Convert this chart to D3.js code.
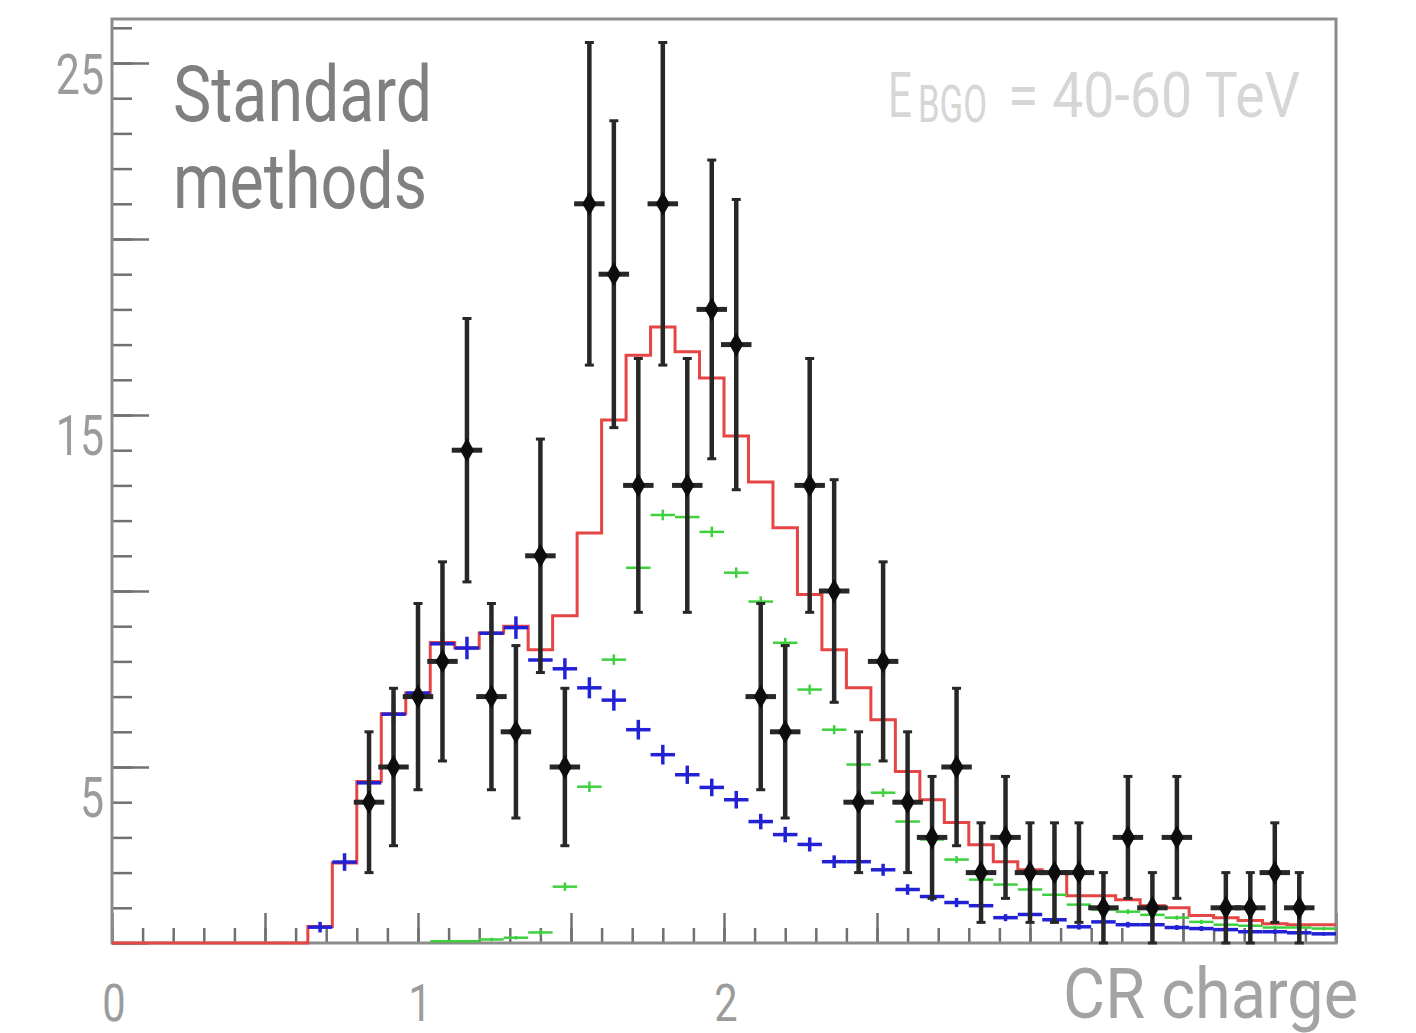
<!DOCTYPE html>
<html>
<head>
<meta charset="utf-8">
<script src="https://cdn.jsdelivr.net/npm/d3@7"></script>
<style>
  body { margin: 0; background: #fff; }
  text { font-family: Roboto, "Noto Sans", sans-serif; }
</style>
</head>
<body>
<div id="chart"></div>
<script>
// histogram binning of CR charge: 50 bins of 0.08 from 0 to 4
var xMin = 0, xMax = 4, binWidth = 0.08, nBins = 50;

// observed counts per bin (black points, Poisson errors)
var dataCounts = [
  0, 0, 0, 0, 0, 0, 0, 0, 0, 0,
  4, 5, 7, 8, 14, 7, 6, 11, 5, 21,
  19, 13, 21, 13, 18, 17, 7, 6, 13, 10,
  4, 8, 4, 3, 5, 2, 3, 2, 2, 2,
  1, 3, 1, 3, 0, 1, 1, 2, 1, 0
];

// total fit (red histogram)
var fitTotal = [
  0, 0, 0, 0, 0, 0, 0, 0, 0.47, 2.27,
  4.59, 6.51, 7.1, 8.54, 8.38, 8.81, 9.0, 8.33, 9.3, 11.65,
  14.86, 16.7, 17.5, 16.8, 16.05, 14.4, 13.1, 11.8, 9.9, 8.33,
  7.25, 6.34, 4.87, 4.07, 3.42, 2.79, 2.31, 2.08, 2.0, 1.34,
  1.34, 1.23, 1.06, 1.0, 0.78, 0.72, 0.64, 0.55, 0.52, 0.52
];

// template 1 (blue crosses)
var templateBlue = [
  null, null, null, null, null, null, null, null, 0.45, 2.3,
  4.55, 6.5, 7.1, 8.5, 8.38, 8.8, 8.96, 8.04, 7.79, 7.25,
  6.9, 6.06, 5.35, 4.78, 4.42, 4.07, 3.45, 3.08, 2.8, 2.31,
  2.31, 2.08, 1.52, 1.32, 1.15, 1.06, 0.72, 0.81, 0.66, 0.46,
  0.6, 0.52, 0.52, 0.44, 0.41, 0.38, 0.32, 0.32, 0.29, 0.26
];
var templateBlueErr = [
  0, 0, 0, 0, 0, 0, 0, 0, 0.15, 0.25,
  0.3, 0.3, 0.3, 0.32, 0.32, 0.32, 0.32, 0.3, 0.3, 0.3,
  0.3, 0.28, 0.28, 0.26, 0.25, 0.25, 0.22, 0.22, 0.2, 0.18,
  0.18, 0.17, 0.15, 0.14, 0.13, 0.12, 0.1, 0.1, 0.1, 0.08,
  0.08, 0.08, 0.08, 0.07, 0.07, 0.06, 0.06, 0.06, 0.05, 0.05
];

// template 2 (green crosses)
var templateGreen = [
  null, null, null, null, null, null, null, null, null, null,
  null, null, null, 0.05, 0.05, 0.1, 0.15, 0.3, 1.6, 4.44,
  8.05, 10.66, 12.16, 12.1, 11.68, 10.52, 9.7, 8.53, 7.2, 6.06,
  5.07, 4.27, 3.45, 2.94, 2.37, 1.8, 1.66, 1.52, 1.37, 1.09,
  0.95, 0.89, 0.8, 0.72, 0.6, 0.52, 0.49, 0.44, 0.44, 0.41
];
var templateGreenErr = [
  0, 0, 0, 0, 0, 0, 0, 0, 0, 0,
  0, 0, 0, 0.03, 0.03, 0.05, 0.05, 0.08, 0.12, 0.15,
  0.15, 0.15, 0.15, 0.15, 0.15, 0.15, 0.15, 0.14, 0.14, 0.13,
  0.12, 0.12, 0.11, 0.1, 0.1, 0.09, 0.09, 0.08, 0.08, 0.07,
  0.07, 0.07, 0.06, 0.06, 0.06, 0.05, 0.05, 0.05, 0.05, 0.05
];

var yTickLabels = [5, 15, 25];
var xTickLabels = [0, 1, 2];

var width = 1416, height = 1033;
var frame = { left: 112, right: 1336, top: 19, bottom: 943 };

var svg = d3.select('#chart').append('svg')
  .attr('width', width)
  .attr('height', height);

var x = d3.scaleLinear().domain([xMin, xMax]).range([frame.left, frame.right]);
var y = d3.scaleLinear().domain([0, 26.25]).range([frame.bottom, frame.top]);

var centers = d3.range(nBins).map(i => xMin + (i + 0.5) * binWidth);

// axis ticks (drawn inside the frame like ROOT)
function ticks(axis, values, size) {
  return axis.tickValues(values).tickSizeInner(size).tickSizeOuter(0).tickFormat('');
}

var xAxisG = svg.append('g').attr('transform', `translate(0,${frame.bottom})`);
xAxisG.append('g').call(ticks(d3.axisBottom(x), d3.range(0, 40.5, 1).map(d => d / 10), -15));
xAxisG.append('g').call(ticks(d3.axisBottom(x), d3.range(0, 8.5, 1).map(d => d / 2), -30));

var yAxisG = svg.append('g').attr('transform', `translate(${frame.left},0)`);
yAxisG.append('g').call(ticks(d3.axisLeft(y), d3.range(0, 27, 1), -20));
yAxisG.append('g').call(ticks(d3.axisLeft(y), d3.range(0, 30, 5), -37));

svg.selectAll('.domain').remove();
svg.selectAll('.tick line').attr('stroke', '#707070').attr('stroke-width', 2.5);

// frame
svg.append('rect')
  .attr('x', frame.left)
  .attr('y', frame.top)
  .attr('width', frame.right - frame.left)
  .attr('height', frame.bottom - frame.top)
  .attr('fill', 'none')
  .attr('stroke', '#8c8c8c')
  .attr('stroke-width', 3);

// red total fit, drawn as a step histogram
var steps = centers.map((c, i) => [c - binWidth / 2, fitTotal[i]]);
steps.push([xMax, fitTotal[nBins - 1]]);

svg.append('path')
  .datum(steps)
  .attr('fill', 'none')
  .attr('stroke', '#e64545')
  .attr('stroke-width', 3)
  .attr('d', d3.line().x(d => x(d[0])).y(d => y(d[1])).curve(d3.curveStepAfter));

// template crosses
function crosses(values, errs, color, sw) {
  var pts = values.map((v, i) => ({ c: centers[i], v: v, e: errs[i] })).filter(d => d.v !== null);
  var g = svg.append('g').attr('stroke', color).attr('stroke-width', sw);
  g.selectAll('line.h').data(pts).enter().append('line')
    .attr('class', 'h')
    .attr('x1', d => x(d.c - binWidth / 2))
    .attr('x2', d => x(d.c + binWidth / 2))
    .attr('y1', d => y(d.v))
    .attr('y2', d => y(d.v));
  g.selectAll('line.v').data(pts).enter().append('line')
    .attr('class', 'v')
    .attr('x1', d => x(d.c))
    .attr('x2', d => x(d.c))
    .attr('y1', d => y(d.v - d.e))
    .attr('y2', d => y(d.v + d.e));
}

crosses(templateGreen, templateGreenErr, '#3fd03f', 2.5);
crosses(templateBlue, templateBlueErr, '#2222d4', 3.5);

// data points with sqrt(N) errors
var points = dataCounts.map((n, i) => ({ c: centers[i], n: n })).filter(d => d.n > 0);
var dataG = svg.append('g').attr('stroke', '#272727');

dataG.selectAll('line.err').data(points).enter().append('line')
  .attr('class', 'err')
  .attr('stroke-width', 4.5)
  .attr('x1', d => x(d.c))
  .attr('x2', d => x(d.c))
  .attr('y1', d => y(d.n - Math.sqrt(d.n)))
  .attr('y2', d => y(d.n + Math.sqrt(d.n)));

['lo', 'hi'].forEach(function(end) {
  dataG.selectAll(`line.cap-${end}`).data(points).enter().append('line')
    .attr('class', `cap-${end}`)
    .attr('stroke-width', 3)
    .attr('x1', d => x(d.c) - 4.5)
    .attr('x2', d => x(d.c) + 4.5)
    .attr('y1', d => y(end === 'lo' ? d.n - Math.sqrt(d.n) : d.n + Math.sqrt(d.n)))
    .attr('y2', d => y(end === 'lo' ? d.n - Math.sqrt(d.n) : d.n + Math.sqrt(d.n)));
});

dataG.selectAll('line.bin').data(points).enter().append('line')
  .attr('class', 'bin')
  .attr('stroke-width', 5)
  .attr('x1', d => x(d.c - binWidth / 2) - 3)
  .attr('x2', d => x(d.c + binWidth / 2) + 3)
  .attr('y1', d => y(d.n))
  .attr('y2', d => y(d.n));

dataG.selectAll('path.marker').data(points).enter().append('path')
  .attr('class', 'marker')
  .attr('transform', d => `translate(${x(d.c)},${y(d.n)})`)
  .attr('d', d3.symbol().type(d3.symbolDiamond).size(170))
  .attr('fill', '#0d0d0d')
  .attr('stroke', 'none');

// condensed look: squeeze glyphs horizontally
function condense(sel, k) {
  sel.each(function() {
    var w = this.getComputedTextLength();
    d3.select(this).attr('textLength', w * k).attr('lengthAdjust', 'spacingAndGlyphs');
  });
}

// tick labels (hand-placed look: drift grows towards the bottom)
svg.append('g').selectAll('text').data(yTickLabels).enter().append('text')
  .attr('x', 104)
  .attr('y', d => y(d) + 40 + (15 - d) * 0.95)
  .attr('text-anchor', 'end')
  .attr('font-size', 55)
  .attr('fill', '#9b9b9b')
  .text(d => d)
  .call(condense, 0.78);

svg.append('g').selectAll('text').data(xTickLabels).enter().append('text')
  .attr('x', d => x(d) + 2)
  .attr('y', 1021)
  .attr('text-anchor', 'middle')
  .attr('font-size', 52)
  .attr('fill', '#9b9b9b')
  .text(d => d)
  .call(condense, 0.8);

// axis title
svg.append('text')
  .attr('x', 1358)
  .attr('y', 1018)
  .attr('text-anchor', 'end')
  .attr('font-size', 70)
  .attr('fill', '#a3a3a3')
  .attr('textLength', 295)
  .attr('lengthAdjust', 'spacingAndGlyphs')
  .text('CR charge');

// panel annotations
svg.append('text')
  .attr('x', 173).attr('y', 121)
  .attr('font-size', 78)
  .attr('fill', '#808080')
  .attr('textLength', 259)
  .attr('lengthAdjust', 'spacingAndGlyphs')
  .text('Standard');

svg.append('text')
  .attr('x', 173).attr('y', 208)
  .attr('font-size', 78)
  .attr('fill', '#808080')
  .attr('textLength', 254)
  .attr('lengthAdjust', 'spacingAndGlyphs')
  .text('methods');

var energyColor = '#d6d6d6';
svg.append('text')
  .attr('x', 888).attr('y', 117)
  .attr('font-size', 63)
  .attr('fill', energyColor)
  .attr('textLength', 24)
  .attr('lengthAdjust', 'spacingAndGlyphs')
  .text('E');
svg.append('text')
  .attr('x', 918).attr('y', 122)
  .attr('font-size', 51)
  .attr('fill', energyColor)
  .attr('textLength', 69)
  .attr('lengthAdjust', 'spacingAndGlyphs')
  .text('BGO');
svg.append('text')
  .attr('x', 1008).attr('y', 117)
  .attr('font-size', 63)
  .attr('fill', energyColor)
  .attr('textLength', 292)
  .attr('lengthAdjust', 'spacingAndGlyphs')
  .text('= 40-60 TeV');
</script>
</body>
</html>
